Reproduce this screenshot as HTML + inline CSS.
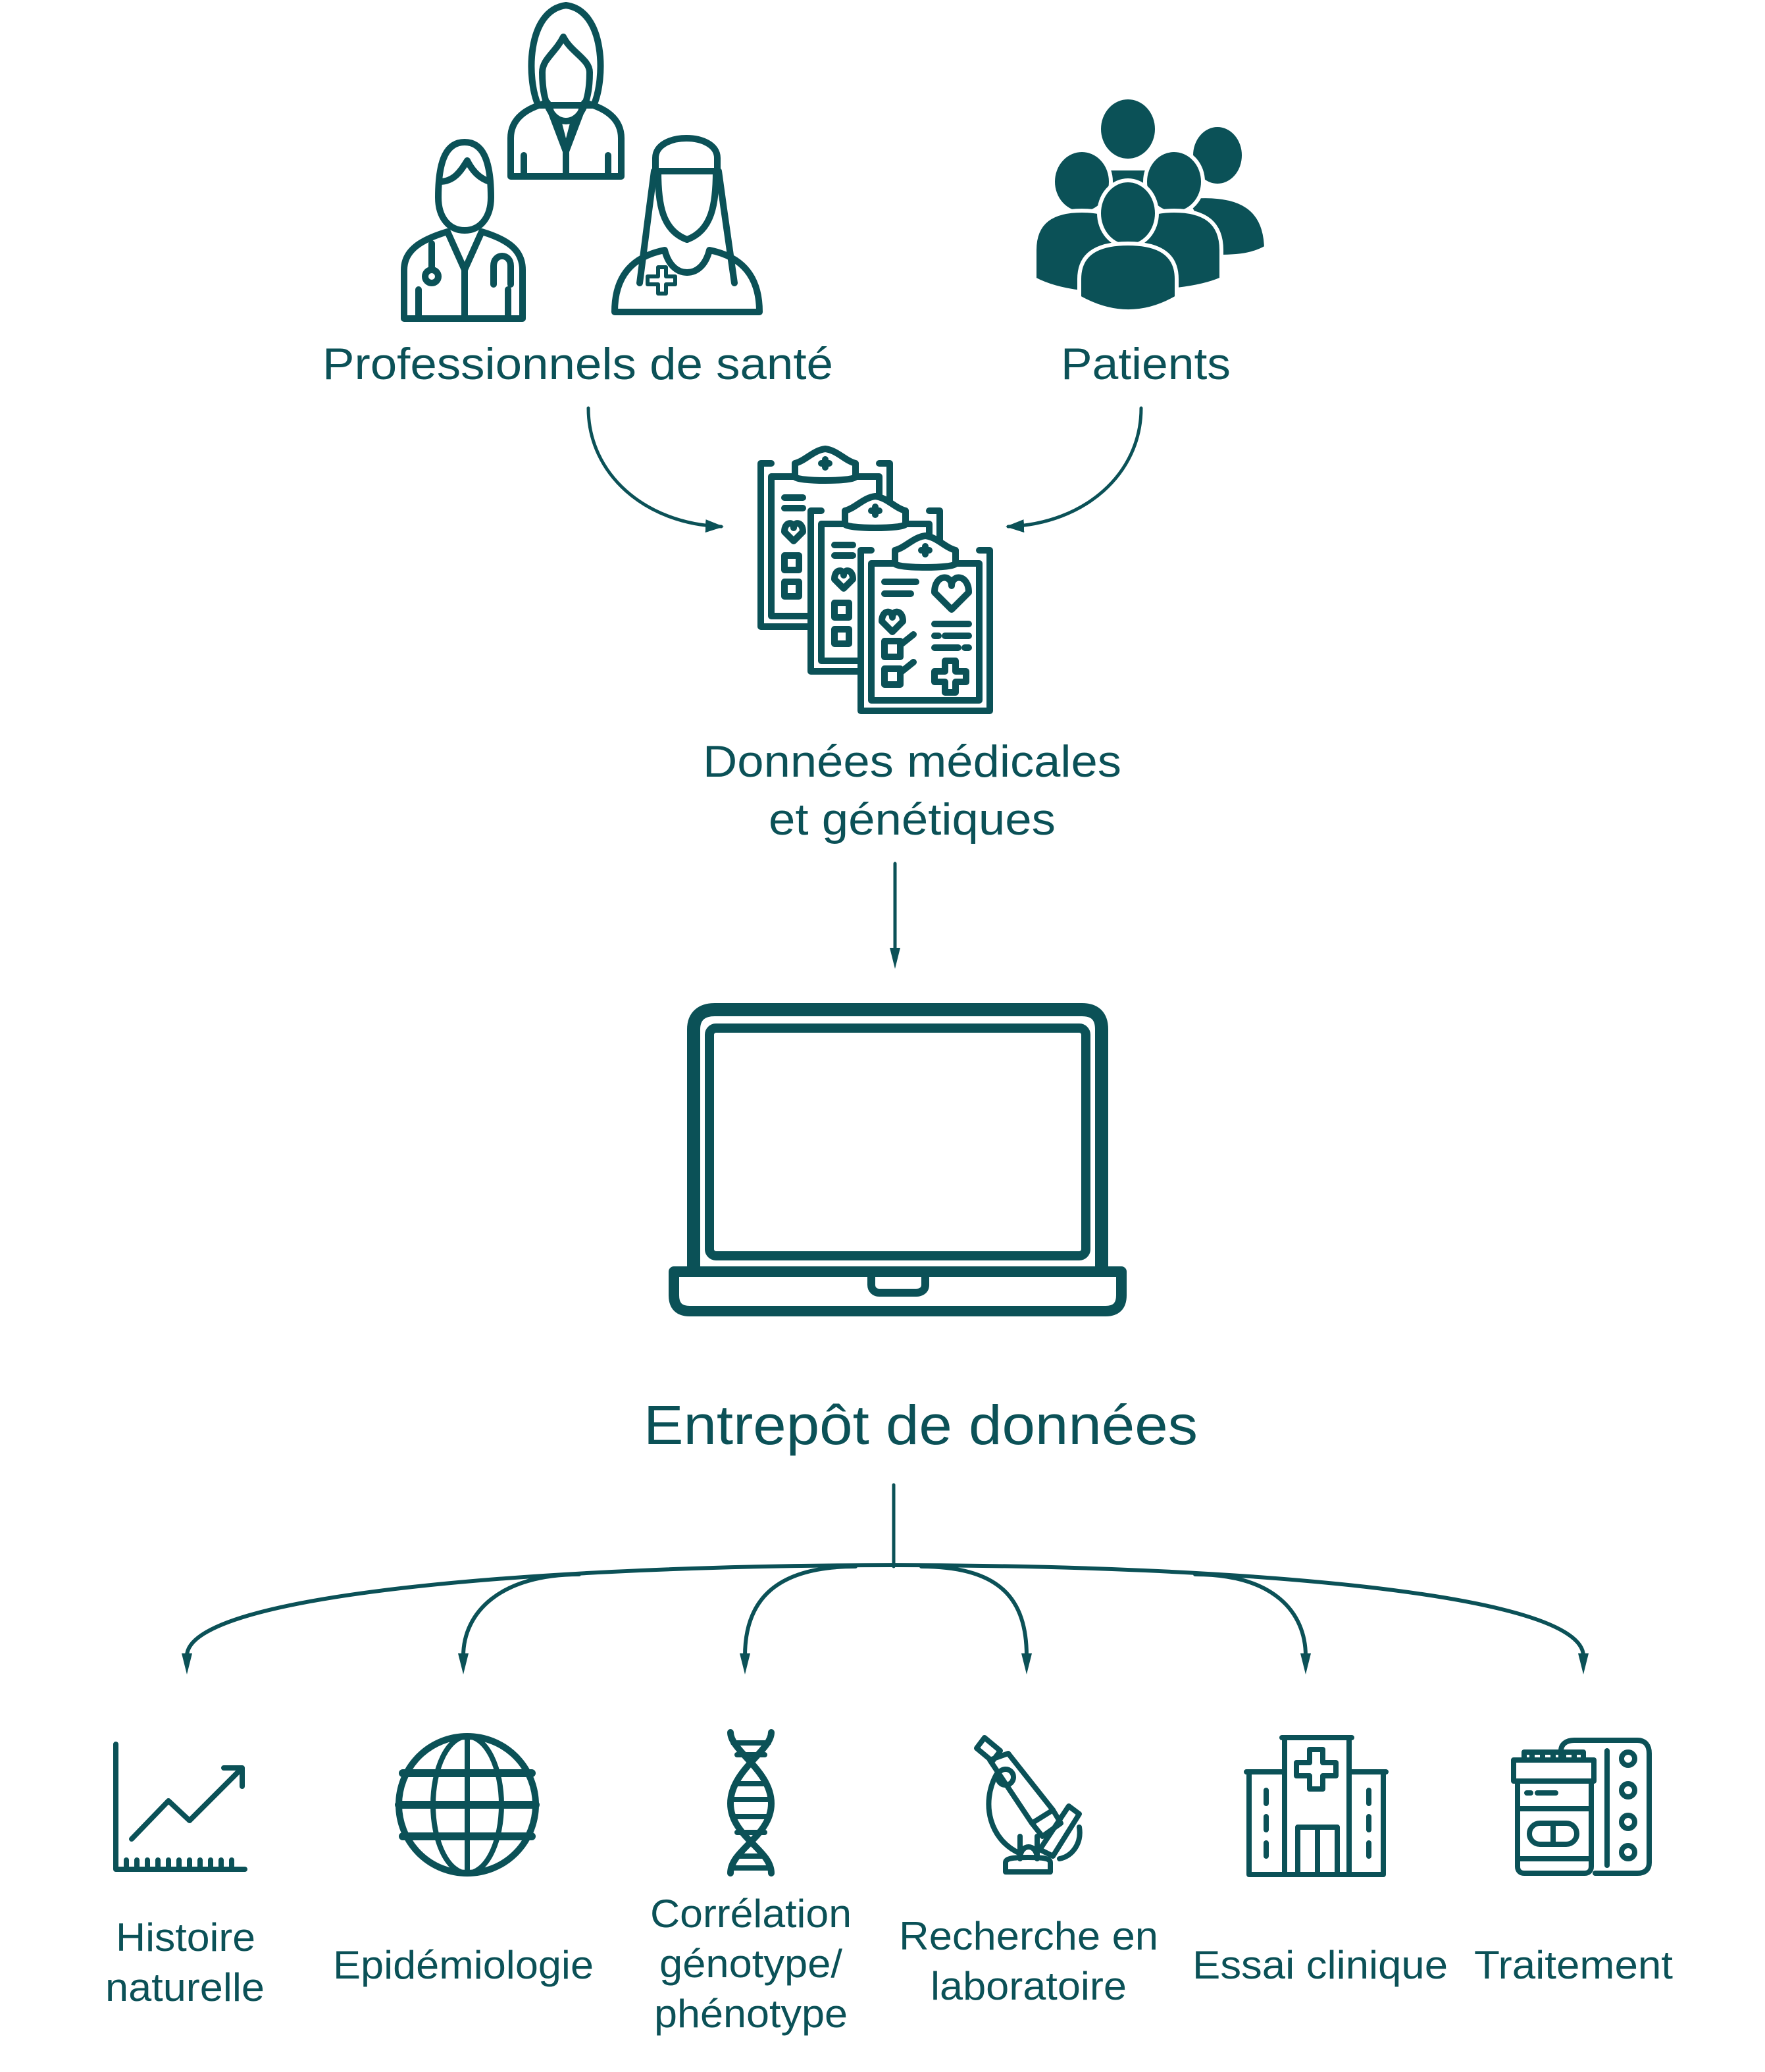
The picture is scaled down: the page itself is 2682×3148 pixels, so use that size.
<!DOCTYPE html>
<html><head><meta charset="utf-8"><style>
html,body{margin:0;padding:0;background:#fff}
svg{display:block}
text{font-family:"Liberation Sans",Arial,sans-serif;fill:#0b5157}
</style></head><body>
<svg width="2682" height="3148" viewBox="0 0 1341 1574" xmlns="http://www.w3.org/2000/svg">
<defs>
<marker id="ah" viewBox="0 0 16 8" refX="2" refY="4" markerWidth="16" markerHeight="8" orient="auto" markerUnits="userSpaceOnUse">
<path d="M0,0 L16,4 L0,8 Z" fill="#0b5157"/>
</marker>
<marker id="ah2" viewBox="0 0 14 10" refX="12" refY="5" markerWidth="14" markerHeight="10" orient="auto" markerUnits="userSpaceOnUse">
<path d="M0,0 L14,5 L0,10 Z" fill="#0b5157"/>
</marker>
</defs>
<g fill="none" stroke="#0b5157" stroke-linecap="round" stroke-linejoin="round">

<!-- Professionals -->
<g stroke-width="5">
 <!-- woman top -->
 <path d="M409,80 C400,60 400,8 430,4 C460,8 460,60 451,80 Z"/>
 <path d="M412,55 C412,45 422,40 428,28 C434,40 448,45 448,55 C448,80 440,92 430,92 C420,92 412,80 412,55 Z"/>
 <path d="M388,134 L388,105 C388,90 400,82 416,78 L430,115 L444,78 C460,82 472,90 472,105 L472,134 Z"/>
 <path d="M424,92 L430,115 L436,92 M430,115 L430,134 M398,118 L398,134 M462,118 L462,134"/>
 <!-- doctor -->
 <path d="M333,150 C333,120 340,108 353,108 C366,108 373,120 373,150 C373,165 365,175 353,175 C341,175 333,165 333,150 Z"/>
 <path d="M334,138 C345,138 350,130 355,122 C360,132 366,136 372,138"/>
 <path d="M307,242 L307,205 C307,190 320,182 340,176 L353,205 L366,176 C386,182 397,190 397,205 L397,242 Z"/>
 <path d="M353,205 L353,242 M318,220 L318,242 M386,220 L386,242"/>
 <path d="M328,185 L328,205"/><circle cx="328" cy="210" r="5"/>
 <path d="M375,216 L375,202 C375,192 388,192 388,202 L388,216"/>
 <!-- nurse -->
 <path d="M498,120 C498,100 545,100 545,120 L545,130 L498,130 Z"/>
 <path d="M500,130 C500,155 503,175 522,182 C541,175 544,155 544,130"/>
 <path d="M497,130 C493,160 488,200 486,215 M546,130 C550,160 556,200 558,215"/>
 <path d="M467,237 C467,210 480,195 505,190 C508,202 515,207 522,207 C529,207 536,202 539,190 C564,195 577,210 577,237 Z"/>
 <path d="M492,210 L500,210 L500,203 L506,203 L506,210 L513,210 L513,216 L506,216 L506,223 L500,223 L500,216 L492,216 Z" stroke-width="3"/>
</g>

<!-- Clipboards -->
<g stroke-width="5">
 <path d="M586,352 L578,352 L578,476 L676,476 L676,352 L668,352"/>
 <rect x="586" y="362" width="82" height="106" />
 <path d="M604,352 L604,362 C604,366 650,366 650,362 L650,352 C642,350 636,342 627,341 C618,342 612,350 604,352 Z" fill="#fff"/>
 <path d="M624,352 h6 M627,349 v6"/>
 <path d="M596,378 h14 M596,386 h14"/>
 <path d="M596,404 c0,-8 7,-8 7,-3 c0,-5 7,-5 7,3 l-7,7 z"/>
 <rect x="596" y="422" width="11" height="11"/><rect x="596" y="442" width="11" height="11"/>
</g>
<g stroke-width="5">
 <rect x="614" y="388" width="100" height="122" fill="#fff" stroke="none"/>
 <path d="M624,388 L616,388 L616,510 L714,510 L714,388 L706,388"/>
 <rect x="624" y="398" width="82" height="104"/>
 <path d="M642,388 L642,398 C642,402 688,402 688,398 L688,388 C680,386 674,378 665,377 C656,378 650,386 642,388 Z" fill="#fff"/>
 <path d="M662,388 h6 M665,385 v6"/>
 <path d="M634,414 h14 M634,422 h14"/>
 <path d="M634,440 c0,-8 7,-8 7,-3 c0,-5 7,-5 7,3 l-7,7 z"/>
 <rect x="634" y="458" width="11" height="11"/><rect x="634" y="478" width="11" height="11"/>
</g>
<g stroke-width="5">
 <rect x="652" y="416" width="102" height="126" fill="#fff" stroke="none"/>
 <path d="M662,418 L654,418 L654,540 L752,540 L752,418 L744,418"/>
 <rect x="662" y="428" width="82" height="104"/>
 <path d="M680,418 L680,428 C680,432 726,432 726,428 L726,418 C718,416 712,408 703,407 C694,408 688,416 680,418 Z" fill="#fff"/>
 <path d="M700,418 h6 M703,415 v6"/>
 <path d="M672,442 h24 M672,451 h20"/>
 <path d="M710,450 c0,-14 13,-14 13,-5 c0,-9 13,-9 13,5 l-13,13 z"/>
 <path d="M670,472 c0,-9 8,-9 8,-3 c0,-6 8,-6 8,3 l-8,8 z"/>
 <rect x="672" y="487" width="12" height="12"/><rect x="672" y="508" width="12" height="12"/>
 <path d="M684,490 l10,-8 M684,511 l10,-8"/>
 <path d="M710,474 h26 M710,483 h3 M718,483 h18 M710,492 h18 M733,492 h3"/>
 <path d="M718,502 h8 v8 h8 v8 h-8 v8 h-8 v-8 h-8 v-8 h8 z"/>
</g>

<!-- arrows top -->
<path d="M447,310 C447,360 490,398 548,400" stroke-width="2.5" marker-end="url(#ah2)"/>
<path d="M867,310 C867,360 824,398 766,400" stroke-width="2.5" marker-end="url(#ah2)"/>
<path d="M680,656 L680,722" stroke-width="2.5" marker-end="url(#ah)"/>

<!-- Laptop -->
<path d="M527,965 L527,782 C527,772 533,767 543,767 L822,767 C832,767 837,772 837,782 L837,965" stroke-width="10"/>
<rect x="539" y="781" width="286" height="173" rx="5" stroke-width="7"/>
<path d="M512,966 L852,966 L852,984 C852,992 848,996 840,996 L524,996 C516,996 512,992 512,984 Z" stroke-width="8"/>
<path d="M662,970 L662,976 C662,980 665,982 668,982 L696,982 C700,982 703,980 703,976 L703,970" stroke-width="6"/>

<!-- tree -->
<path d="M679,1128 L679,1190" stroke-width="2.5"/>
<g stroke-width="3">
 <path d="M679,1189 C420,1189 142,1210 142,1258" marker-end="url(#ah)"/>
 <path d="M679,1189 C938,1189 1203,1210 1203,1258" marker-end="url(#ah)"/>
 <path d="M440,1196 C380,1196 352,1225 352,1258" marker-end="url(#ah)"/>
 <path d="M650,1190 C590,1190 566,1215 566,1258" marker-end="url(#ah)"/>
 <path d="M700,1190 C760,1190 780,1215 780,1258" marker-end="url(#ah)"/>
 <path d="M908,1196 C968,1196 992,1225 992,1258" marker-end="url(#ah)"/>
</g>

<!-- chart -->
<g stroke-width="4">
 <path d="M88,1325 L88,1420 L186,1420"/>
 <path d="M96,1413 v5 M104,1413 v5 M112,1413 v5 M120,1413 v5 M128,1413 v5 M136,1413 v5 M144,1413 v5 M152,1413 v5 M160,1413 v5 M168,1413 v5 M176,1413 v5"/>
 <path d="M100,1397 L128,1368 L144,1383 L184,1343 M170,1343 L184,1343 L184,1357"/>
</g>
<!-- globe -->
<g stroke-width="5">
 <circle cx="355" cy="1371" r="52"/>
 <ellipse cx="355" cy="1371" rx="26" ry="52" stroke-width="4"/>
 <path d="M355,1319 L355,1423" stroke-width="4"/>
 <path d="M306,1347 H404 M303,1371 H407 M306,1395 H404" stroke-width="6"/>
</g>
<!-- DNA -->
<g stroke-width="5">
 <path d="M555,1316 C555,1330 586,1345 586,1370 C586,1395 555,1405 555,1423"/>
 <path d="M586,1316 C586,1330 555,1345 555,1370 C555,1395 586,1405 586,1423"/>
 <path d="M557,1324 h27 M560,1333 h21 M560,1355 h21 M557,1367 h27 M557,1380 h27 M560,1392 h21 M560,1410 h21 M557,1419 h27" stroke-width="4"/>
</g>
<!-- microscope -->
<g stroke-width="4">
 <path d="M742,1328 L748,1320 L760,1330 L754,1338 Z"/>
 <path d="M752,1337 L766,1332 L800,1375 L784,1385 Z"/>
 <circle cx="764" cy="1350" r="6"/>
 <path d="M784,1385 L792,1395 L806,1385 L800,1375"/>
 <path d="M757,1348 C745,1370 752,1398 775,1408"/>
 <path d="M790,1405 L812,1372 L820,1378 L800,1410 Z"/>
 <path d="M820,1388 C822,1400 815,1410 805,1412"/>
 <path d="M775,1395 L775,1412 C775,1400 788,1400 788,1412 L788,1395"/>
 <path d="M764,1422 L764,1415 C764,1412 768,1411 781,1411 C794,1411 798,1412 798,1415 L798,1422 Z"/>
</g>
<!-- hospital -->
<g stroke-width="4">
 <path d="M974,1320 H1027 M976,1320 V1424 M1025,1320 V1424"/>
 <path d="M947,1346 H976 M1025,1346 H1053 M949,1346 V1424 H1051 V1346"/>
 <path d="M995,1329 h10 v10 h10 v10 h-10 v10 h-10 v-10 h-10 v-10 h10 z"/>
 <path d="M986,1424 V1388 H1016 V1424 M1001,1388 V1424"/>
 <path d="M962,1360 v10 M962,1380 v10 M962,1400 v10 M1040,1360 v10 M1040,1380 v10 M1040,1400 v10"/>
</g>
<!-- meds -->
<g stroke-width="4">
 <path d="M1186,1340 V1330 C1186,1325 1190,1322 1196,1322 H1244 C1250,1322 1253,1326 1253,1332 V1415 C1253,1420 1250,1423 1244,1423 H1212"/>
 <path d="M1221,1330 V1417"/>
 <circle cx="1237" cy="1336" r="5"/><circle cx="1237" cy="1360" r="5"/><circle cx="1237" cy="1384" r="5"/><circle cx="1237" cy="1407" r="5"/>
 <path d="M1150,1337 H1211 V1353 H1150 Z" fill="#fff"/>
 <path d="M1158,1337 v-6 h45 v6 M1164,1337 v-4 M1172,1337 v-4 M1180,1337 v-4 M1188,1337 v-4 M1196,1337 v-4"/>
 <path d="M1153,1353 V1418 C1153,1421 1155,1423 1158,1423 H1204 C1207,1423 1209,1421 1209,1418 V1353"/>
 <path d="M1160,1362 h3 M1168,1362 h14"/>
 <path d="M1153,1374 H1209 M1153,1412 H1209"/>
 <rect x="1162" y="1385" width="36" height="16" rx="8"/>
 <path d="M1180,1385 v16"/>
</g>
</g>

<!-- text -->
<text x="245" y="288" font-size="34" textLength="388" lengthAdjust="spacingAndGlyphs">Professionnels de santé</text>
<text x="806" y="288" font-size="34" textLength="129" lengthAdjust="spacingAndGlyphs">Patients</text>
<text x="534" y="590" font-size="34" textLength="318" lengthAdjust="spacingAndGlyphs">Données médicales</text>
<text x="584" y="634" font-size="34" textLength="218" lengthAdjust="spacingAndGlyphs">et génétiques</text>
<text x="489" y="1097" font-size="42" textLength="421" lengthAdjust="spacingAndGlyphs">Entrepôt de données</text>
<text x="88" y="1482" font-size="30" textLength="106" lengthAdjust="spacingAndGlyphs">Histoire</text>
<text x="80" y="1520" font-size="30" textLength="121" lengthAdjust="spacingAndGlyphs">naturelle</text>
<text x="253" y="1503" font-size="30" textLength="198" lengthAdjust="spacingAndGlyphs">Epidémiologie</text>
<text x="494" y="1464" font-size="30" textLength="153" lengthAdjust="spacingAndGlyphs">Corrélation</text>
<text x="501" y="1502" font-size="30" textLength="139" lengthAdjust="spacingAndGlyphs">génotype/</text>
<text x="497" y="1540" font-size="30" textLength="147" lengthAdjust="spacingAndGlyphs">phénotype</text>
<text x="683" y="1481" font-size="30" textLength="197" lengthAdjust="spacingAndGlyphs">Recherche en</text>
<text x="707" y="1519" font-size="30" textLength="149" lengthAdjust="spacingAndGlyphs">laboratoire</text>
<text x="906" y="1503" font-size="30" textLength="194" lengthAdjust="spacingAndGlyphs">Essai clinique</text>
<text x="1120" y="1503" font-size="30" textLength="151" lengthAdjust="spacingAndGlyphs">Traitement</text>

<!-- patients filled -->
<g fill="#0b5157" stroke="#fff" stroke-width="3">
 <ellipse cx="925" cy="118" rx="20" ry="23"/>
 <path d="M900,150 C945,145 962,160 962,190 L962,188 C950,195 935,195 925,195 Z"/>
 <ellipse cx="857" cy="98" rx="22" ry="24"/>
 <path d="M835,128 L880,128 L880,160 L835,160 Z"/>
 <ellipse cx="822" cy="138" rx="22" ry="24"/>
 <path d="M786,212 L786,190 C786,168 800,160 822,160 C844,160 858,168 858,190 L858,222 C835,225 805,222 786,212 Z"/>
 <ellipse cx="892" cy="138" rx="22" ry="24"/>
 <path d="M856,190 C856,168 870,160 892,160 C914,160 928,168 928,190 L928,212 C910,220 880,222 856,222 Z"/>
 <ellipse cx="857" cy="162" rx="22" ry="25"/>
 <path d="M820,226 L820,212 C820,192 835,185 857,185 C879,185 894,192 894,212 L894,226 C870,240 845,240 820,226 Z"/>
</g>
</svg>
</body></html>
